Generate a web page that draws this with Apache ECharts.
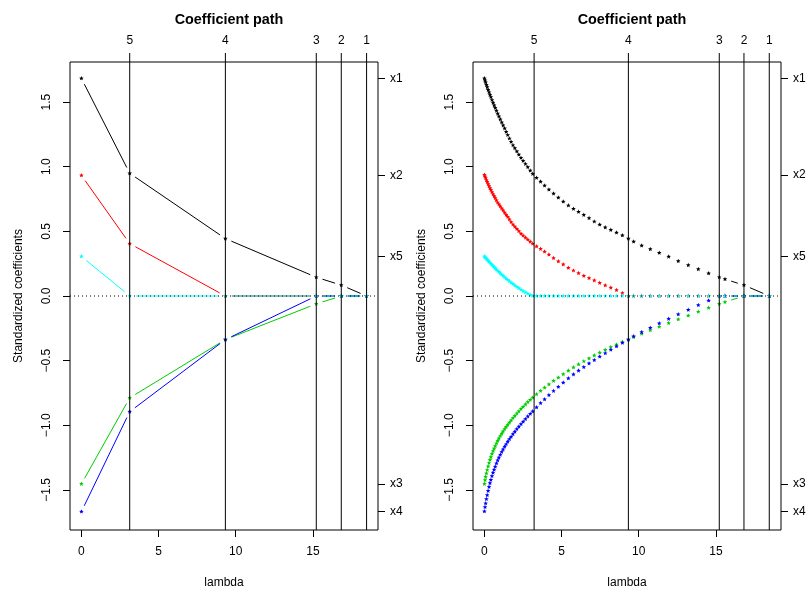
<!DOCTYPE html>
<html lang="en">
<head>
<meta charset="utf-8" />
<title>Coefficient path</title>
<script src="https://cdn.jsdelivr.net/npm/echarts@6/dist/echarts.min.js"></script>
<style>
  html, body { margin: 0; background: #fff; }
  #main { width: 809px; height: 594px; }
</style>
</head>
<body>
<div id="main"></div>
<script>
// ---------- data ----------
// left panel: values at the knots
var lamL = [0, 3.13, 9.33, 15.22, 16.84, 18.48];
var x1L = [1.683, 0.949, 0.444, 0.145, 0.084, 0];
var x2L = [0.933, 0.405, 0, 0, 0, 0];
var x3L = [-1.454, -0.788, -0.337, -0.061, 0, 0];
var x4L = [-1.668, -0.895, -0.337, 0, 0, 0];
var x5L = [0.306, 0, 0, 0, 0, 0];

// right panel: values on the fine lambda grid
var lamR = [0, 0.04, 0.08, 0.13, 0.18, 0.24, 0.30, 0.36, 0.42, 0.49,
  0.56, 0.63, 0.70, 0.78, 0.86, 0.94, 1.03, 1.12, 1.21, 1.31,
  1.41, 1.51, 1.62, 1.73, 1.85, 1.97, 2.10, 2.23, 2.37, 2.51,
  2.66, 2.81, 2.97, 3.13,
  3.38, 3.64, 3.90, 4.18, 4.48, 4.79, 5.11, 5.44, 5.77, 6.10,
  6.44, 6.78, 7.12, 7.47, 7.83, 8.19, 8.56, 8.94, 9.33,
  9.67, 10.19, 10.75, 11.33, 11.94, 12.56, 13.21, 13.86, 14.53, 15.22,
  15.59, 16.82, 18.46];
var x1R = [1.683, 1.667, 1.652, 1.633, 1.615, 1.595, 1.576, 1.557, 1.538, 1.516,
  1.495, 1.475, 1.455, 1.433, 1.411, 1.389, 1.366, 1.343, 1.320, 1.296,
  1.270, 1.245, 1.218, 1.192, 1.166, 1.143, 1.119, 1.094, 1.068, 1.045,
  1.021, 0.997, 0.970, 0.944,
  0.914, 0.884, 0.854, 0.823, 0.792, 0.761, 0.730, 0.700, 0.674, 0.651,
  0.627, 0.602, 0.576, 0.552, 0.530, 0.511, 0.490, 0.469, 0.444,
  0.421, 0.390, 0.362, 0.334, 0.304, 0.270, 0.238, 0.207, 0.175, 0.145,
  0.130, 0.084, 0];
var x2R = [0.936, 0.924, 0.912, 0.897, 0.883, 0.866, 0.850, 0.835, 0.820, 0.803,
  0.787, 0.772, 0.757, 0.740, 0.723, 0.709, 0.693, 0.677, 0.662, 0.645,
  0.628, 0.612, 0.592, 0.571, 0.553, 0.537, 0.519, 0.501, 0.482, 0.467,
  0.451, 0.436, 0.420, 0.404,
  0.383, 0.364, 0.343, 0.320, 0.293, 0.268, 0.244, 0.218, 0.197, 0.176,
  0.156, 0.138, 0.120, 0.101, 0.082, 0.064, 0.045, 0.023, 0,
  0, 0, 0, 0, 0, 0, 0, 0, 0, 0,
  0, 0, 0];
var x3R = [-1.454, -1.425, -1.400, -1.372, -1.346, -1.318, -1.292, -1.268, -1.246, -1.222,
  -1.200, -1.180, -1.161, -1.140, -1.120, -1.102, -1.083, -1.065, -1.048, -1.030,
  -1.013, -0.996, -0.979, -0.962, -0.944, -0.927, -0.909, -0.892, -0.874, -0.857,
  -0.839, -0.821, -0.803, -0.786,
  -0.760, -0.734, -0.709, -0.683, -0.657, -0.631, -0.605, -0.578, -0.553, -0.529,
  -0.505, -0.482, -0.460, -0.438, -0.417, -0.396, -0.376, -0.356, -0.337,
  -0.318, -0.292, -0.265, -0.238, -0.210, -0.181, -0.152, -0.122, -0.092, -0.061,
  -0.047, 0, 0];
var x4R = [-1.666, -1.633, -1.604, -1.571, -1.541, -1.508, -1.477, -1.448, -1.422, -1.393,
  -1.367, -1.343, -1.320, -1.295, -1.271, -1.250, -1.228, -1.207, -1.187, -1.166,
  -1.147, -1.127, -1.108, -1.089, -1.069, -1.050, -1.030, -1.011, -0.991, -0.972,
  -0.952, -0.932, -0.912, -0.893,
  -0.861, -0.829, -0.799, -0.767, -0.735, -0.703, -0.670, -0.637, -0.607, -0.578,
  -0.550, -0.522, -0.496, -0.469, -0.443, -0.416, -0.390, -0.363, -0.337,
  -0.312, -0.280, -0.246, -0.212, -0.177, -0.142, -0.107, -0.071, -0.036, 0,
  0, 0, 0];
var x5R = [0.306, 0.300, 0.295, 0.288, 0.281, 0.273, 0.265, 0.257, 0.249, 0.240,
  0.231, 0.223, 0.214, 0.204, 0.195, 0.186, 0.175, 0.165, 0.155, 0.145,
  0.135, 0.125, 0.114, 0.104, 0.093, 0.082, 0.071, 0.060, 0.049, 0.038,
  0.028, 0.018, 0.008, 0,
  0, 0, 0, 0, 0, 0, 0, 0, 0, 0,
  0, 0, 0, 0, 0, 0, 0, 0, 0,
  0, 0, 0, 0, 0, 0, 0, 0, 0, 0,
  0, 0, 0];

// vertical lines (knots) and the number of active variables above them
var knotsL = [3.13, 9.33, 15.22, 16.84, 18.48];
var knotsR = [3.22, 9.33, 15.22, 16.82, 18.46];
var knotLabels = ["5", "4", "3", "2", "1"];
var xTicks = [0, 5, 10, 15];
var yTicks = [-1.5, -1.0, -0.5, 0.0, 0.5, 1.0, 1.5];
var varNames = ["x1", "x2", "x3", "x4", "x5"];
var colors = ["#000000", "#ff0000", "#00cd00", "#0000ff", "#00ffff"];

// ---------- chart ----------
var FONT = "'Liberation Sans', Arial, Helvetica, sans-serif";
var XMIN = -0.74, XMAX = 19.22, YMIN = -1.81, YMAX = 1.81;
var GAP = 6.5; // gap round each point, like R type = "b"

var chart = echarts.init(document.getElementById("main"));

function starPts(cx, cy, r) {
  var pts = [];
  for (var k = 0; k < 10; k++) {
    var a = -Math.PI / 2 + k * Math.PI / 5;
    var rr = k % 2 ? r * 0.45 : r;
    pts.push([cx + rr * Math.cos(a), cy + rr * Math.sin(a)]);
  }
  return pts;
}

function pathSeries(lam, coef, color, gi) {
  return {
    type: "custom",
    xAxisIndex: gi * 2,
    yAxisIndex: gi * 2,
    data: lam.map(function (l, i) { return [l, coef[i]]; }),
    encode: { x: 0, y: 1 },
    clip: false,
    z: 2,
    renderItem: function (params, api) {
      var i = params.dataIndex;
      var p = api.coord([api.value(0), api.value(1)]);
      var kids = [{
        type: "polygon",
        shape: { points: starPts(p[0], p[1], 2.4) },
        style: { fill: color }
      }];
      if (i < lam.length - 1) {
        var q = api.coord([lam[i + 1], coef[i + 1]]);
        var dx = q[0] - p[0], dy = q[1] - p[1];
        var d = Math.sqrt(dx * dx + dy * dy);
        if (d > 2 * GAP) {
          var ux = dx / d, uy = dy / d;
          kids.push({
            type: "line",
            shape: { x1: p[0] + ux * GAP, y1: p[1] + uy * GAP, x2: q[0] - ux * GAP, y2: q[1] - uy * GAP },
            style: { stroke: color, lineWidth: 1 }
          });
        }
      }
      return { type: "group", children: kids };
    }
  };
}

function knotSeries(knots, gi) {
  return {
    type: "custom",
    xAxisIndex: gi * 2,
    yAxisIndex: gi * 2,
    data: knots.map(function (k) { return [k, 0]; }),
    encode: { x: 0, y: 1 },
    clip: false,
    z: 3,
    renderItem: function (params, api) {
      var b = api.coord([api.value(0), YMIN]);
      var t = api.coord([api.value(0), YMAX]);
      return {
        type: "line",
        shape: { x1: b[0], y1: b[1], x2: t[0], y2: t[1] - 9 },
        style: { stroke: "#000", lineWidth: 1 }
      };
    }
  };
}

function zeroSeries(gi) {
  return {
    type: "line",
    xAxisIndex: gi * 2,
    yAxisIndex: gi * 2,
    data: [[XMIN, 0], [XMAX, 0]],
    symbol: "none",
    silent: true,
    z: 4,
    lineStyle: { color: "#000", width: 1, type: [1, 3] }
  };
}

function fmtNum(v) {
  var s = Math.abs(v).toFixed(1);
  return v < 0 ? "\u2212" + s : s;
}

function nearestLabel(v, vals, labels) {
  var best = 0;
  for (var i = 1; i < vals.length; i++) {
    if (Math.abs(vals[i] - v) < Math.abs(vals[best] - v)) best = i;
  }
  return labels[best];
}

var txt = { color: "#000", fontSize: 12, fontFamily: FONT };
var grids = [], xAxes = [], yAxes = [], series = [], titles = [];
var panels = [
  { left: 70, lam: lamL, coefs: [x1L, x2L, x3L, x4L, x5L], knots: knotsL },
  { left: 473, lam: lamR, coefs: [x1R, x2R, x3R, x4R, x5R], knots: knotsR }
];

panels.forEach(function (pn, gi) {
  grids.push({
    left: pn.left, top: 62, width: 308, height: 472,
    show: true, borderColor: "#000", borderWidth: 1, backgroundColor: "transparent"
  });
  titles.push({
    text: "Coefficient path",
    left: pn.left + 154, top: 8, textAlign: "center",
    textStyle: { fontSize: 14.4, fontWeight: "bold", color: "#000", fontFamily: FONT }
  });
  // bottom lambda axis
  xAxes.push({
    gridIndex: gi, type: "value", position: "bottom", min: XMIN, max: XMAX,
    axisLine: { show: false, onZero: false },
    splitLine: { show: false },
    axisTick: { show: true, length: 7, customValues: xTicks, lineStyle: { color: "#000" } },
    axisLabel: { customValues: xTicks, margin: 16, ...txt },
    name: "lambda", nameLocation: "middle", nameGap: 47, nameTextStyle: txt
  });
  // top axis: number of variables at each knot
  xAxes.push({
    gridIndex: gi, type: "value", position: "top", min: XMIN, max: XMAX,
    axisLine: { show: false, onZero: false },
    splitLine: { show: false },
    axisTick: { show: false },
    axisLabel: {
      customValues: pn.knots, margin: 15, ...txt,
      formatter: function (v) { return nearestLabel(v, pn.knots, knotLabels); }
    }
  });
  yAxes.push({
    gridIndex: gi, type: "value", position: "left", min: YMIN, max: YMAX,
    axisLine: { show: false, onZero: false },
    splitLine: { show: false },
    axisTick: { show: true, length: 7, customValues: yTicks, lineStyle: { color: "#000" } },
    axisLabel: { customValues: yTicks, rotate: 90, margin: 17, formatter: fmtNum, ...txt },
    name: "Standardized coefficients", nameLocation: "middle", nameGap: 45, nameRotate: 90,
    nameTextStyle: txt
  });
  // right axis: variable names at lambda = 0
  var ends = pn.coefs.map(function (c) { return c[0]; });
  yAxes.push({
    gridIndex: gi, type: "value", position: "right", min: YMIN, max: YMAX,
    axisLine: { show: false, onZero: false },
    splitLine: { show: false },
    axisTick: { show: true, length: 7, customValues: ends, lineStyle: { color: "#000" } },
    axisLabel: {
      customValues: ends, margin: 12, ...txt,
      formatter: function (v) { return nearestLabel(v, ends, varNames); }
    }
  });
  pn.coefs.forEach(function (c, k) {
    series.push(pathSeries(pn.lam, c, colors[k], gi));
  });
  series.push(knotSeries(pn.knots, gi));
  series.push(zeroSeries(gi));
});

chart.setOption({
  animation: false,
  backgroundColor: "#fff",
  title: titles,
  grid: grids,
  xAxis: xAxes,
  yAxis: yAxes,
  series: series
});
</script>
</body>
</html>
